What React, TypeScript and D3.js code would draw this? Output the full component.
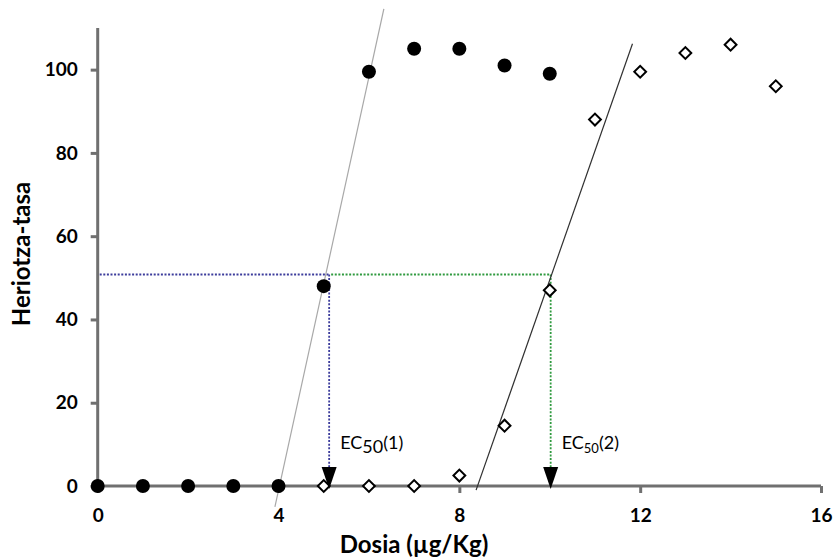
import React, { useRef, useEffect } from 'react';
import * as d3 from 'd3';

// series 1: filled circles
const dose1 = [0, 1, 2, 3, 4, 5, 6, 7, 8, 9, 10];
const mort1 = [0, 0, 0, 0, 0, 48, 99.5, 105, 105, 101, 99];
// series 2: open diamonds
const dose2 = [5, 6, 7, 8, 9, 10, 11, 12, 13, 14, 15];
const mort2 = [0, 0, 0, 2.5, 14.5, 47, 88, 99.5, 104, 106, 96];
// hand drawn fit lines (start / end in data units)
const fit1X = [3.92, 6.33];
const fit1Y = [-5, 114.6];
const fit2X = [8.37, 11.83];
const fit2Y = [-1, 106.2];
// EC50 guides
const ec50 = [5.12, 10.02];
const halfLevel = 50.8;
const xTicks = [0, 4, 8, 12, 16];
const yTicks = [0, 20, 40, 60, 80, 100];

const FONT = 'Lato, "Open Sans", sans-serif';

const App = () => {
  const canvas = useRef<HTMLDivElement>(null);

  useEffect(() => {
    const width = 834;
    const height = 557;
    const root = d3.select(canvas.current);
    root.selectAll('*').remove();
    const svg = root
      .append('svg')
      .attr('width', width)
      .attr('height', height)
      .style('position', 'absolute')
      .style('left', '0px')
      .style('top', '0px')
      .style('background', '#fff');

    const x = d3.scaleLinear().domain([0, 16]).range([97.7, 821]);
    const y = d3.scaleLinear().domain([0, 110]).range([486, 28]);

    // axes
    const yAxis = svg
      .append('g')
      .attr('transform', `translate(${x(0)},0)`)
      .call(d3.axisLeft(y).tickValues(yTicks).tickSize(7).tickPadding(13));
    const xAxis = svg
      .append('g')
      .attr('transform', `translate(0,${y(0)})`)
      .call(d3.axisBottom(x).tickValues(xTicks).tickSize(7).tickPadding(16));
    [yAxis, xAxis].forEach((a) => {
      a.select('.domain').attr('stroke', '#707070').attr('stroke-width', 3);
      a.selectAll('.tick line').attr('stroke', '#707070').attr('stroke-width', 3);
      a.selectAll('.tick text')
        .attr('fill', '#000')
        .style('font-family', FONT)
        .style('font-weight', 'bold')
        .style('font-size', '19px');
    });
    yAxis.select('.domain').attr('d', `M0,${y(0)}V${y(110)}`);
    xAxis.select('.domain').attr('d', `M${x(0)},0H${x(16)}`);

    // axis titles
    svg
      .append('text')
      .attr('transform', `translate(30,254) rotate(-90)`)
      .attr('text-anchor', 'middle')
      .style('font-family', FONT)
      .style('font-weight', 'bold')
      .style('font-size', '24px')
      .text('Heriotza-tasa');
    svg
      .append('text')
      .attr('x', 414)
      .attr('y', 553)
      .attr('text-anchor', 'middle')
      .style('font-family', FONT)
      .style('font-weight', 'bold')
      .style('font-size', '24px')
      .text('Dosia (µg/Kg)');

    // dotted EC50 guides
    const guides = [
      { x0: 0, x1: ec50[0], color: '#3c3c9c' },
      { x0: ec50[0], x1: ec50[1], color: '#2f9a3f' },
    ];
    guides.forEach((gd) => {
      svg
        .append('line')
        .attr('x1', x(gd.x0) + 2)
        .attr('x2', x(gd.x1))
        .attr('y1', y(halfLevel))
        .attr('y2', y(halfLevel))
        .attr('stroke', gd.color)
        .attr('stroke-width', 1.8)
        .attr('stroke-dasharray', '2 1.6');
      svg
        .append('line')
        .attr('x1', x(gd.x1))
        .attr('x2', x(gd.x1))
        .attr('y1', y(halfLevel))
        .attr('y2', y(0) - 18)
        .attr('stroke', gd.color)
        .attr('stroke-width', 1.8)
        .attr('stroke-dasharray', '2 1.6');
    });

    // fit lines
    const fits = [
      { xs: fit1X, ys: fit1Y, color: '#a8a8a8' },
      { xs: fit2X, ys: fit2Y, color: '#303030' },
    ];
    const fitLine = d3
      .line<[number, number]>()
      .x((d) => x(d[0]))
      .y((d) => y(d[1]));
    fits.forEach((f) => {
      const pts = f.xs.map((v, i) => [v, f.ys[i]] as [number, number]);
      svg
        .append('path')
        .attr('d', fitLine(pts) || '')
        .attr('fill', 'none')
        .attr('stroke', f.color)
        .attr('stroke-width', 1.2);
    });

    // markers
    svg
      .append('g')
      .selectAll('circle')
      .data(dose1)
      .join('circle')
      .attr('cx', (d) => x(d))
      .attr('cy', (_, i) => y(mort1[i]))
      .attr('r', 7)
      .attr('fill', '#000');
    const diamond = d3.symbol().type(d3.symbolSquare).size(70);
    svg
      .append('g')
      .selectAll('path')
      .data(dose2)
      .join('path')
      .attr('d', diamond() || '')
      .attr('transform', (d, i) => `translate(${x(d)},${y(mort2[i])}) rotate(45)`)
      .attr('fill', '#fff')
      .attr('stroke', '#000')
      .attr('stroke-width', 2);

    // arrow heads
    ec50.forEach((v) => {
      const cx = x(v);
      const tip = y(0) + 3;
      svg
        .append('path')
        .attr('d', `M${cx - 7.5},${tip - 22}L${cx + 7.5},${tip - 22}L${cx},${tip}Z`)
        .attr('fill', '#000');
    });

    // EC50 labels
    const labels = [
      { v: ec50[0], num: '(1)', subSize: 18 },
      { v: ec50[1], num: '(2)', subSize: 13 },
    ];
    labels.forEach((l) => {
      const t = svg
        .append('text')
        .attr('x', x(l.v) + 11)
        .attr('y', 449)
        .style('font-family', FONT)
        .style('font-size', '18px')
        .attr('fill', '#000');
      t.append('tspan').text('EC');
      t.append('tspan').attr('dy', 4).style('font-size', `${l.subSize}px`).text('50');
      t.append('tspan').attr('dy', -4).text(l.num);
    });
  });

  return <div ref={canvas}></div>;
};

export default App;
